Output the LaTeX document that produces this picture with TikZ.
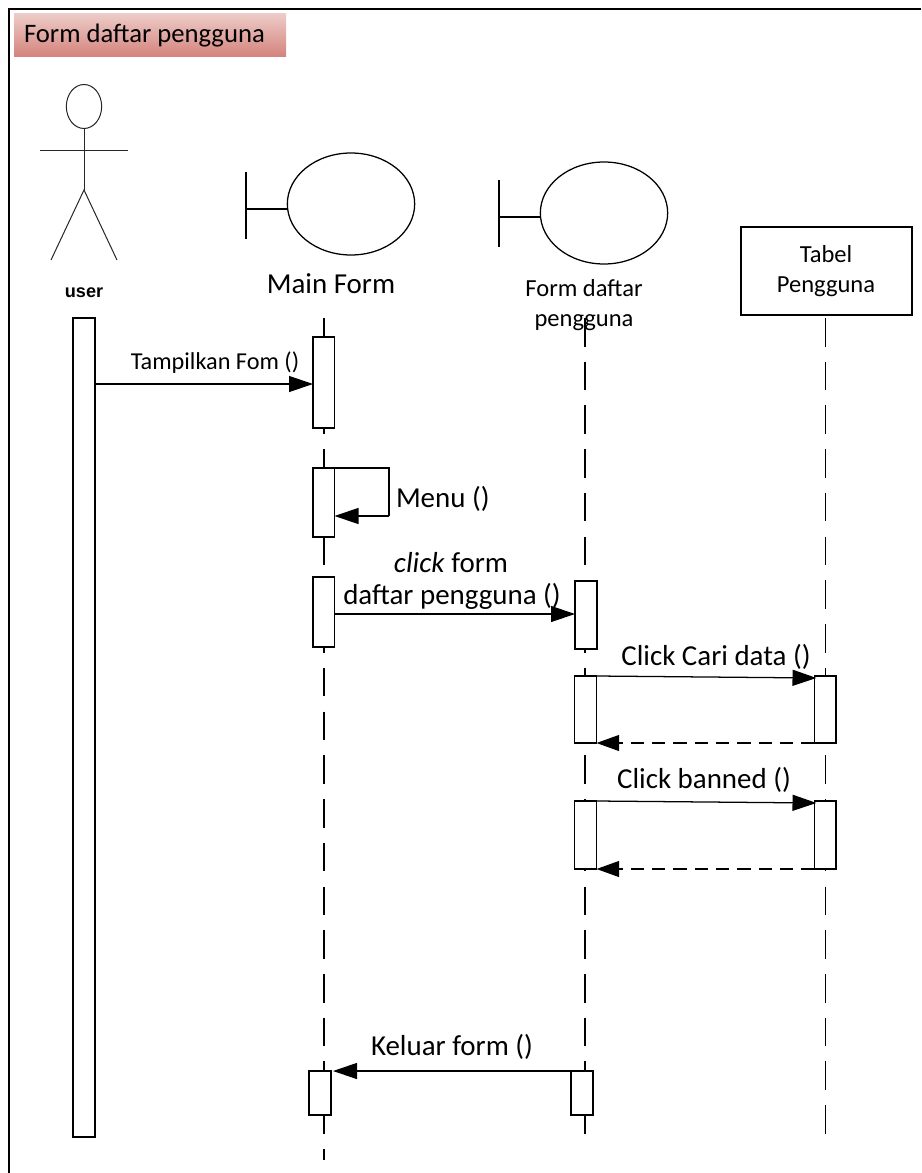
\documentclass[tikz,border=0pt]{standalone}
\usepackage{fontspec}
\setmainfont{Carlito}
\newfontfamily\arialf{Liberation Sans}
\usetikzlibrary{arrows.meta,shapes.geometric}
\newcommand\fs[2]{\fontsize{#1}{#2}\selectfont}
\definecolor{hdrtop}{RGB}{237,203,199}
\definecolor{hdrbot}{RGB}{212,130,124}
\tikzset{
 x=0.75pt,y=-0.75pt,
 ln/.style={draw=black,line width=0.95pt},
 thin line/.style={draw=black!85,line width=0.75pt},
 abar/.style={draw=black,fill=white,line width=0.95pt,rectangle,inner sep=0,outer sep=0},
 life/.style={draw=black,line width=0.85pt,dash pattern=on 21.4pt off 11.4pt},
 msg/.style={ln,-{Triangle[length=18pt,width=12pt]}},
 ret/.style={draw=black,line width=0.95pt,dash pattern=on 10pt off 6pt,-{Triangle[length=17pt,width=12pt,fill=black]}},
 lab/.style={inner sep=0,outer sep=0,text=black,font=\fs{21.7}{26}},
 blabel/.style={lab,align=center,font=\fs{18.4}{22}},
 ent/.style={draw=black,line width=0.95pt,ellipse,minimum width=95.5pt,minimum height=76.5pt,inner sep=0,outer sep=0},
}
\newcommand\abox[5]{\node[abar,minimum width={(#4-#2)*0.75pt},minimum height={(#5-#3)*0.75pt}] (#1) at ({(#2+#4)/2},{(#3+#5)/2}) {};}
\begin{document}
\begin{tikzpicture}
\useasboundingbox (0,0) rectangle (921,1173);
% frame
\coordinate (fa) at (921,9);
\coordinate (fb) at (9,9);
\coordinate (fc) at (9,1173);
\draw[black,line width=1.5pt] (fa) -- (fb) -- (fc);
% header
\node[rectangle,inner sep=0,outer sep=0,minimum width=204pt,minimum height=32.25pt,top color=hdrtop,bottom color=hdrbot] (hdr) at (150,35.5) {};
\node[lab,anchor=west,font=\fs{20}{24}] (hdrt) at (24,36) {Form daftar pengguna};
% lifelines
\coordinate (l1t) at (324,318); \coordinate (l1b) at (324,1160);
\coordinate (l2t) at (585,318); \coordinate (l2b) at (585,1134);
\coordinate (l3t) at (825.5,318); \coordinate (l3b) at (825.5,1134);
\draw[life] (l1t) -- (l1b);
\draw[life] (l2t) -- (l2b);
\draw[life] (l3t) -- (l3b);
% actor
\node[draw=black!85,line width=0.75pt,ellipse,minimum width=26.5pt,minimum height=33pt,inner sep=0,outer sep=0] (head) at (84,106.5) {};
\coordinate (hip) at (84,190);
\coordinate (arml) at (40,151); \coordinate (armr) at (128,151);
\coordinate (legl) at (51,260); \coordinate (legr) at (117,260);
\draw[thin line] (head.south) -- (hip);
\draw[thin line] (arml) -- (armr);
\draw[thin line] (legl) -- (hip) -- (legr);
\node[lab,font=\arialf\bfseries\fs{13.6}{16}] (user) at (84,292.5) {user};
% boundary 1
\node[ent] (e1) at (351,204) {};
\coordinate (b1t) at (246,172); \coordinate (b1b) at (246,239);
\draw[ln] (b1t) -- (b1b);
\draw[ln] (b1t |- 0,209) -- (e1.west |- 0,209);
\node[lab] (e1t) at (331,284) {Main Form};
% boundary 2
\node[ent] (e2) at (604,213) {};
\coordinate (b2t) at (499,180); \coordinate (b2b) at (499,247);
\draw[ln] (b2t) -- (b2b);
\draw[ln] (b2t |- 0,217) -- (e2.west |- 0,217);
\node[blabel] (e2t) at (584,305) {Form daftar\\pengguna};
% table
\node[draw=black,line width=0.95pt,fill=white,rectangle,inner sep=0,outer sep=0,minimum width=128.25pt,minimum height=66pt] (tb) at (826.5,271) {};
\node[blabel] (tbt) at (826,271) {Tabel\\Pengguna};
% activations
\abox{ua}{73}{318}{95}{1137}
\abox{m1}{313}{337}{334.5}{428}
\abox{m2}{313}{468}{334.5}{537}
\abox{m3}{313}{577}{334.5}{647}
\abox{m4}{309}{1071}{331}{1115}
\abox{f1}{575}{581}{597}{649}
\abox{f2}{574.5}{676}{596.5}{743}
\abox{f3}{574.5}{801}{596.5}{869}
\abox{f4}{571}{1071}{593}{1115}
\abox{t1}{814.5}{676}{836}{743}
\abox{t2}{814.5}{801}{836}{869}
% messages
\draw[msg] (ua.east |- 0,384) -- (m1.west |- 0,384);
\draw[ln] (m2.east |- 0,468) -- (389,468) coordinate (sa) -- (389,516) coordinate (sb);
\draw[msg] (sb) -- (m2.east |- sb);
\draw[msg] (m3.east |- 0,614) -- (f1.west |- 0,614);
\draw[msg] (f2.north east) -- ([xshift=1.5pt]t1.west |- 0,678);
\draw[ret] (t1.south west) -- (f2.south east);
\draw[msg] (f3.north east) -- ([xshift=1.5pt]t2.west |- 0,803);
\draw[ret] (t2.south west) -- (f3.south east);
\draw[msg] (f4.north west) -- ([xshift=1.5pt]m4.north east);
% labels
\node[lab,font=\fs{18.2}{22}] (l1) at (215,363) {Tampilkan Fom ()};
\node[lab,anchor=west] (l2) at (396,499) {Menu ()};
\node[lab] (l3) at (451,563) {\textit{click} form};
\node[lab] (l4) at (452,596) {daftar pengguna ()};
\node[lab] (l5) at (716,657) {Click Cari data ()};
\node[lab] (l6) at (704,780) {Click banned ()};
\node[lab] (l7) at (452,1047) {Keluar form ()};
\end{tikzpicture}
\end{document}
